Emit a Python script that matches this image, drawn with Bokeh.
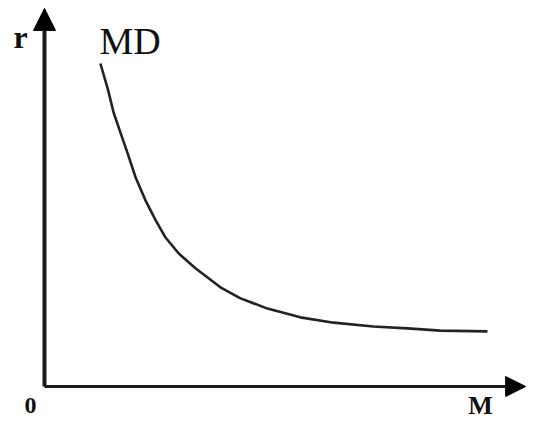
from bokeh.plotting import figure
from bokeh.models import Range1d, Arrow, NormalHead, Label
from bokeh.embed import file_html
from bokeh.resources import INLINE

# Money demand curve (M on x, r on y)
md_m = [1.14, 1.29, 1.41, 1.55, 1.69, 1.86, 2.06, 2.27, 2.47, 2.74,
        3.08, 3.59, 4.00, 4.55, 5.22, 5.90, 6.71, 7.41, 8.08, 9.04]
md_r = [8.50, 7.84, 7.21, 6.68, 6.16, 5.50, 4.90, 4.37, 3.92, 3.50,
        3.11, 2.61, 2.32, 2.05, 1.82, 1.68, 1.58, 1.53, 1.47, 1.45]

axis_x_end = 9.82
axis_y_end = 9.95
x_label = "M"
y_label = "r"
origin_label = "0"
curve_label = "MD"

p = figure(width=527, height=421, output_backend="svg", toolbar_location=None,
           x_range=Range1d(-0.898, 9.857), y_range=Range1d(-0.921, 10.158),
           min_border=0, min_border_left=0, min_border_right=0,
           min_border_top=0, min_border_bottom=0)
p.xaxis.visible = False
p.yaxis.visible = False
p.xgrid.visible = False
p.ygrid.visible = False
p.outline_line_color = None
p.background_fill_color = "white"
p.border_fill_color = "white"

# axes as arrows
p.add_layout(Arrow(end=NormalHead(size=22, fill_color="black", line_color="black", line_width=1),
                   x_start=0, y_start=0, x_end=0, y_end=axis_y_end,
                   line_width=4, line_color="#1a1a1a"))
p.add_layout(Arrow(end=NormalHead(size=20, fill_color="black", line_color="black", line_width=1),
                   x_start=0, y_start=0, x_end=axis_x_end, y_end=0,
                   line_width=3, line_color="#1a1a1a"))

p.line(md_m, md_r, line_width=2.6, line_color="#222222", line_join="round")

font = "Liberation Serif"
p.add_layout(Label(x=-0.49, y=9.21, text=y_label, text_font=font, text_font_style="bold",
                   text_font_size="32px", text_align="center", text_baseline="middle",
                   text_color="#111111"))
p.add_layout(Label(x=md_m[0] - 0.02, y=9.10, text=curve_label, text_font=font, text_font_style="normal",
                   text_font_size="38px", text_align="left", text_baseline="middle",
                   text_color="#111111"))
p.add_layout(Label(x=-0.285, y=-0.50, text=origin_label, text_font=font, text_font_style="bold",
                   text_font_size="24px", text_align="center", text_baseline="middle",
                   text_color="#111111"))
p.add_layout(Label(x=8.90, y=-0.50, text=x_label, text_font=font, text_font_style="bold",
                   text_font_size="26px", text_align="center", text_baseline="middle",
                   text_color="#111111"))

open("out.html", "w").write(file_html(p, INLINE))
